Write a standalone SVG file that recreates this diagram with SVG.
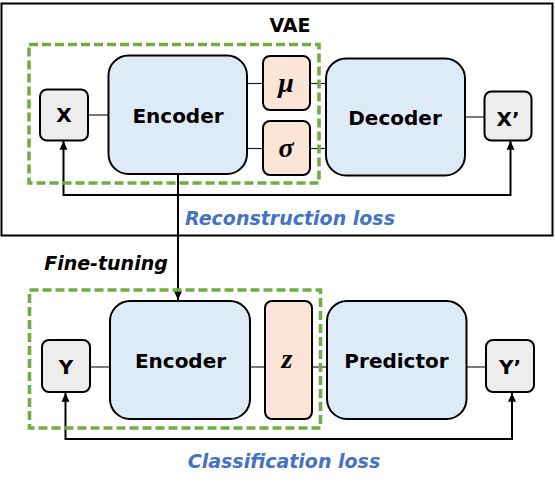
<svg xmlns="http://www.w3.org/2000/svg" width="555" height="493" viewBox="0 0 555 493">
<defs>
<marker id="ah" viewBox="0 0 10 10" refX="10" refY="5" markerWidth="4.4" markerHeight="4.4" orient="auto-start-reverse" markerUnits="strokeWidth">
<path d="M0,0.5 L10,5 L0,9.5 z" fill="#000"/>
</marker>
<style>
.t{font-family:"DejaVu Sans",sans-serif;font-weight:bold;fill:#000;text-anchor:middle}
.loss{font-family:"DejaVu Sans",sans-serif;font-weight:bold;font-style:italic;fill:#4472C4;text-anchor:middle;font-size:19px}
.g{font-family:"Liberation Serif",serif;font-weight:bold;font-style:italic;fill:#000;text-anchor:middle;font-size:28px}
.blue{fill:#DEEBF7;stroke:#000;stroke-width:2}
.peach{fill:#FBE5D6;stroke:#000;stroke-width:2}
.gray{fill:#EDEDED;stroke:#000;stroke-width:2}
.dash{fill:none;stroke:#70AD47;stroke-width:3.6;stroke-dasharray:9 4}
.thin{stroke:#222;stroke-width:1.2;fill:none}
.fb{stroke:#000;stroke-width:2;fill:none}
</style>
</defs>
<rect width="555" height="493" fill="#fff"/>
<g id="vae-frame">
<rect x="1.5" y="3.5" width="551" height="232" fill="none" stroke="#000" stroke-width="2"/>
<text class="t" x="290" y="32" font-size="19">VAE</text>
</g>
<g id="connectors">
<line class="thin" x1="88" y1="115" x2="108" y2="115"/>
<line class="thin" x1="247" y1="83.5" x2="263" y2="83.5"/>
<line class="thin" x1="247" y1="148.5" x2="263" y2="148.5"/>
<line class="thin" x1="310" y1="83.5" x2="326" y2="83.5"/>
<line class="thin" x1="310" y1="148.5" x2="326" y2="148.5"/>
<line class="thin" x1="465" y1="117" x2="484" y2="117"/>
<polyline class="fb" points="510.5,141 510.5,195 63.5,195 63.5,141" marker-start="url(#ah)" marker-end="url(#ah)"/>
<line class="fb" x1="178" y1="174" x2="178" y2="300" marker-end="url(#ah)"/>
<line class="thin" x1="90" y1="367" x2="110" y2="367"/>
<line class="thin" x1="250" y1="367" x2="265" y2="367"/>
<line class="thin" x1="312" y1="367" x2="327" y2="367"/>
<line class="thin" x1="466" y1="367" x2="486" y2="367"/>
<polyline class="fb" points="512,393 512,439 65.5,439 65.5,393" marker-start="url(#ah)" marker-end="url(#ah)"/>
</g>
<g id="finetune-box-top"><rect class="dash" x="29" y="44.5" width="290" height="138.5"/></g>
<g id="x"><rect class="gray" x="40" y="89.5" width="48" height="51" rx="7"/><text class="t" x="64" y="122" font-size="20">X</text></g>
<g id="encoder-top"><rect class="blue" x="108.5" y="55.5" width="138.5" height="118.5" rx="20"/><text class="t" x="178" y="123" font-size="20">Encoder</text></g>
<g id="mu"><rect class="peach" x="263" y="56" width="47" height="54" rx="7"/><text class="g" x="286" y="92">μ</text></g>
<g id="sigma"><rect class="peach" x="263" y="121" width="47" height="54" rx="7"/><text class="g" x="286" y="157">σ</text></g>
<g id="decoder"><rect class="blue" x="326" y="58.5" width="139" height="117" rx="20"/><text class="t" x="395" y="125" font-size="20">Decoder</text></g>
<g id="xprime"><rect class="gray" x="484.5" y="91.5" width="47" height="49" rx="7"/><text class="t" x="508" y="126" font-size="20">X’</text></g>
<text class="loss" x="290" y="225">Reconstruction loss</text>
<text class="t" x="106" y="270" font-size="19" font-style="italic">Fine-tuning</text>
<g id="finetune-box-bottom"><rect class="dash" x="29.5" y="290" width="291" height="138"/></g>
<g id="y"><rect class="gray" x="42" y="340" width="48" height="52" rx="7"/><text class="t" x="66" y="374" font-size="20">Y</text></g>
<g id="encoder-bottom"><rect class="blue" x="110" y="301" width="140" height="118" rx="20"/><text class="t" x="180.5" y="368" font-size="20">Encoder</text></g>
<g id="z"><rect class="peach" x="265" y="301" width="47" height="118" rx="7"/><text class="g" x="287" y="368">z</text></g>
<g id="predictor"><rect class="blue" x="327" y="301" width="139.5" height="118" rx="20"/><text class="t" x="396.5" y="368" font-size="20">Predictor</text></g>
<g id="yprime"><rect class="gray" x="486" y="340" width="48" height="52" rx="7"/><text class="t" x="510" y="374" font-size="20">Y’</text></g>
<text class="loss" x="284" y="468">Classification loss</text>
</svg>
